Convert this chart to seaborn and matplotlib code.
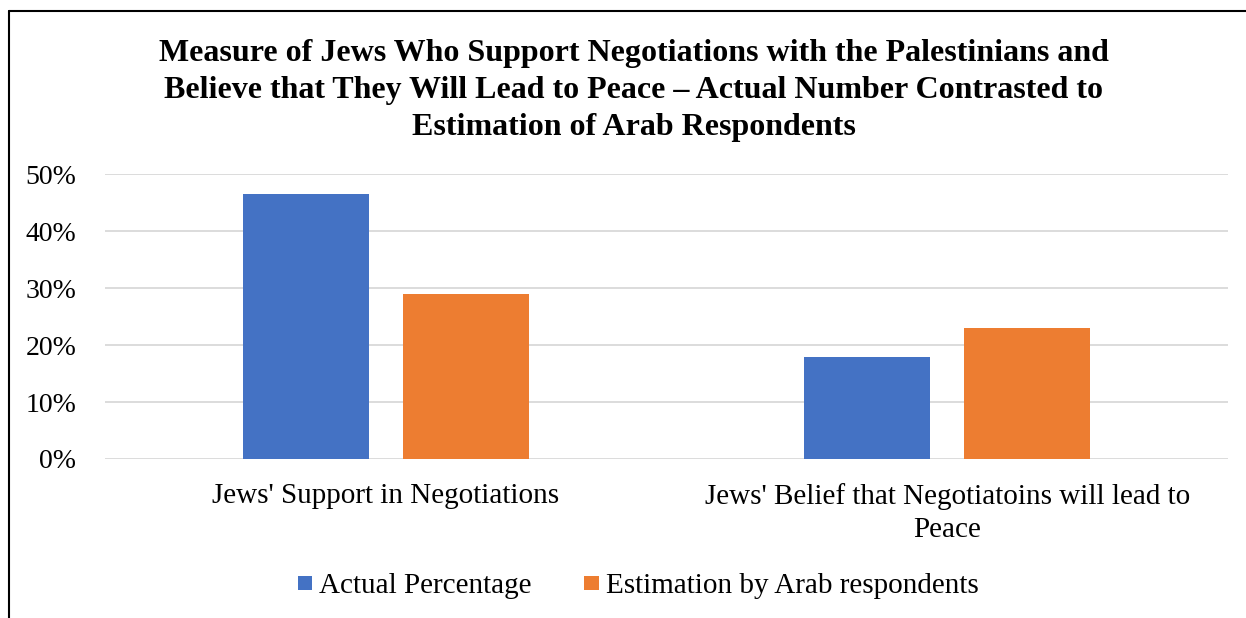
import matplotlib
matplotlib.use("Agg")
import matplotlib.pyplot as plt
import seaborn as sns
import pandas as pd
from matplotlib.lines import Line2D
from matplotlib.ticker import FuncFormatter

# Data
categories = [
    "Jews' Support in Negotiations",
    "Jews' Belief that Negotiatoins will lead to\nPeace",
]
series_names = ["Actual Percentage", "Estimation by Arab respondents"]
actual_pct = [0.465, 0.18]
estimated_pct = [0.29, 0.23]
bar_colors = ["#4472C4", "#ED7D31"]
y_ticks = [0.0, 0.1, 0.2, 0.3, 0.4, 0.5]
title_text = ("Measure of Jews Who Support Negotiations with the Palestinians and\n"
              "Believe that They Will Lead to Peace \u2013 Actual Number Contrasted to\n"
              "Estimation of Arab Respondents")

df = pd.DataFrame({
    "category": categories * 2,
    "series": [series_names[0]] * 2 + [series_names[1]] * 2,
    "value": actual_pct + estimated_pct,
})

sns.set_theme(style="white")
plt.rcParams["font.family"] = ["Liberation Serif", "DejaVu Serif"]
plt.rcParams["text.color"] = "#000000"
plt.rcParams["xtick.color"] = "#000000"
plt.rcParams["ytick.color"] = "#000000"

W, H = 1246, 618
fig = plt.figure(figsize=(W / 100, H / 100), dpi=100)
fig.patch.set_facecolor("white")

# plot area in pixel terms
left, right, bottom, top = 105, 1228, 459, 174.3
ax = fig.add_axes([left / W, 1 - bottom / H, (right - left) / W, (bottom - top) / H])

sns.barplot(data=df, x="category", y="value", hue="series", order=categories,
            hue_order=series_names, palette=bar_colors, saturation=1,
            width=0.57, gap=0.21, ax=ax, errorbar=None,
            linewidth=0, edgecolor="none")

ax.set_ylim(0, 0.5)
ax.set_xlim(-0.5, 1.5)
ax.set_yticks(y_ticks)
ax.yaxis.set_major_formatter(FuncFormatter(lambda v, _: f"{v * 100:.0f}%"))
ax.set_xlabel("")
ax.set_ylabel("")
ax.set_axisbelow(True)
ax.yaxis.grid(True, color="#D9D9D9", linewidth=1.3)
ax.xaxis.grid(False)
for s in ax.spines.values():
    s.set_visible(False)

label_fs = 21
ax.tick_params(axis="y", length=0, pad=20.6, labelsize=20, labelcolor="#000000")
ax.tick_params(axis="x", length=0, pad=17, labelsize=label_fs, labelcolor="#000000")
for lbl in ax.get_xticklabels():
    lbl.set_linespacing(1.39)

# legend below the plot
handles, labels = ax.get_legend_handles_labels()
ax.get_legend().remove()
fig.legend(handles, labels, loc="center", bbox_to_anchor=(638 / W, 1 - 586 / H),
           ncol=2, frameon=False, fontsize=label_fs, handlelength=0.51,
           handleheight=0.36, handletextpad=0.23, columnspacing=1.8,
           borderaxespad=0, borderpad=0, labelcolor="#000000")

# title
fig.text(633.5 / W, 1 - 39 / H, title_text, ha="center", va="top",
         fontsize=23, fontweight="bold", linespacing=1.36, color="#000000")

# chart frame (left and top edges)
fig.add_artist(Line2D([8.5 / W, 8.5 / W], [0, 1 - 11 / H], transform=fig.transFigure,
                      color="#000000", linewidth=1.5))
fig.add_artist(Line2D([8.5 / W, 1], [1 - 11 / H, 1 - 11 / H], transform=fig.transFigure,
                      color="#000000", linewidth=1.5))

fig.savefig("out.png", dpi=100, facecolor="white")
